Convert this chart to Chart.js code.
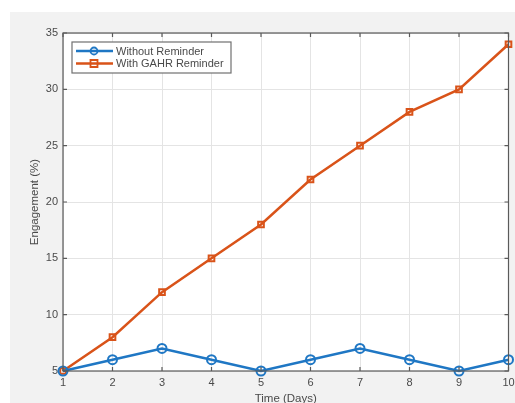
<!DOCTYPE html>
<html>
<head>
<meta charset="utf-8">
<script src="https://cdn.jsdelivr.net/npm/chart.js@4/dist/chart.umd.min.js"></script>
<style>
  html, body { margin: 0; padding: 0; background: #ffffff; }
  #canvas { display: block; }
</style>
</head>
<body>
<canvas id="canvas" width="515" height="403"></canvas>
<script>
// data
var days = [1, 2, 3, 4, 5, 6, 7, 8, 9, 10];
var withoutReminder = [5, 6, 7, 6, 5, 6, 7, 6, 5, 6];
var withGahrReminder = [5, 8, 12, 15, 18, 22, 25, 28, 30, 34];
var seriesNames = ['Without Reminder', 'With GAHR Reminder'];
var yTicks = [5, 10, 15, 20, 25, 30, 35];

var blue = '#1f77c4';
var orange = '#d95319';
var axisColor = '#5a5a5a';
var textColor = '#4a4a4a';
var fontFam = '"Liberation Sans", Arial, sans-serif';

function toPoints(values){
  var pts = [];
  for (var i = 0; i < days.length; i++) {
    pts.push({ x: days[i], y: values[i] });
  }
  return pts;
}

// grey figure background, white axes, frame, ticks and legend box
var matlabLook = {
  id: 'matlabLook',
  beforeDraw: function(chart){
    var ctx = chart.ctx;
    var a = chart.chartArea;
    ctx.save();
    ctx.fillStyle = '#ffffff';
    ctx.fillRect(0, 0, chart.width, chart.height);
    ctx.fillStyle = '#f2f2f2';
    ctx.fillRect(10, 12, chart.width - 10, chart.height - 12);
    ctx.fillStyle = '#ffffff';
    ctx.fillRect(a.left, a.top, a.right - a.left, a.bottom - a.top);
    ctx.restore();
  },
  afterDraw: function(chart){
    var ctx = chart.ctx;
    var a = chart.chartArea;
    var xs = chart.scales.x;
    var ys = chart.scales.y;
    ctx.save();
    ctx.strokeStyle = axisColor;
    ctx.lineWidth = 1.2;
    ctx.strokeRect(a.left, a.top, a.right - a.left, a.bottom - a.top);
    // inward tick marks
    ctx.beginPath();
    for (var i = 0; i < days.length; i++) {
      var px = xs.getPixelForValue(days[i]);
      ctx.moveTo(px, a.bottom); ctx.lineTo(px, a.bottom - 4);
      ctx.moveTo(px, a.top); ctx.lineTo(px, a.top + 4);
    }
    for (var j = 0; j < yTicks.length; j++) {
      var py = ys.getPixelForValue(yTicks[j]);
      ctx.moveTo(a.left, py); ctx.lineTo(a.left + 4, py);
      ctx.moveTo(a.right, py); ctx.lineTo(a.right - 4, py);
    }
    ctx.stroke();

    // legend
    var lx = a.left + 9, ly = a.top + 9, lw = 159, lh = 31;
    ctx.fillStyle = '#ffffff';
    ctx.fillRect(lx, ly, lw, lh);
    ctx.strokeStyle = '#707070';
    ctx.lineWidth = 1.2;
    ctx.strokeRect(lx, ly, lw, lh);
    ctx.font = '11px ' + fontFam;
    ctx.textBaseline = 'middle';
    chart.data.datasets.forEach(function(ds, k){
      var cy = ly + 9 + k * 12.5;
      ctx.strokeStyle = ds.borderColor;
      ctx.lineWidth = 2.5;
      ctx.beginPath();
      ctx.moveTo(lx + 4, cy); ctx.lineTo(lx + 41, cy);
      ctx.stroke();
      ctx.lineWidth = 1.8;
      ctx.beginPath();
      if (ds.pointStyle == 'circle') {
        ctx.arc(lx + 22, cy, 3.5, 0, Math.PI * 2);
      } else {
        ctx.rect(lx + 18.5, cy - 3.5, 7, 7);
      }
      ctx.stroke();
      ctx.fillStyle = textColor;
      ctx.fillText(ds.label, lx + 44, cy + 0.5);
    });
    ctx.restore();
  }
};

var config = {
  type: 'line',
  data: {
    datasets: [{
      label: seriesNames[0],
      data: toPoints(withoutReminder),
      borderColor: blue,
      backgroundColor: 'rgba(0,0,0,0)',
      borderWidth: 2.5,
      pointStyle: 'circle',
      pointRadius: 4.5,
      pointBorderWidth: 2,
      pointBackgroundColor: 'rgba(0,0,0,0)'
    }, {
      label: seriesNames[1],
      data: toPoints(withGahrReminder),
      borderColor: orange,
      backgroundColor: 'rgba(0,0,0,0)',
      borderWidth: 2.5,
      pointStyle: 'rect',
      pointRadius: 4,
      pointBorderWidth: 2,
      pointBackgroundColor: 'rgba(0,0,0,0)'
    }]
  },
  options: {
    responsive: false,
    animation: false,
    clip: false,
    layout: { padding: { left: 28, top: 33, right: 5, bottom: 0 } },
    plugins: { legend: { display: false }, tooltip: { enabled: false } },
    scales: {
      x: {
        type: 'linear',
        min: 1, max: 10,
        ticks: {
          stepSize: 1, padding: 5, color: textColor,
          font: { family: fontFam, size: 11 }
        },
        grid: { color: '#e4e4e4', drawTicks: false },
        border: { display: false },
        title: {
          display: true, text: 'Time (Days)', color: textColor,
          padding: { top: 0, bottom: -3 },
          font: { family: fontFam, size: 11.5 }
        },
        afterFit: function(s){ s.height = 32; s.paddingLeft = 0; s.paddingRight = 0; }
      },
      y: {
        min: 5, max: 35,
        afterBuildTicks: function(s){ s.ticks = yTicks.map(function(v){ return { value: v }; }); },
        ticks: {
          padding: 5, color: textColor,
          font: { family: fontFam, size: 11 }
        },
        grid: { color: '#e4e4e4', drawTicks: false },
        border: { display: false },
        title: {
          display: true, text: 'Engagement (%)', color: textColor,
          padding: { top: 0, bottom: 0 },
          font: { family: fontFam, size: 11.5 }
        },
        afterFit: function(s){ s.width = 35; s.paddingTop = 0; s.paddingBottom = 0; }
      }
    }
  },
  plugins: [matlabLook]
};

var ctx = document.getElementById('canvas').getContext('2d');
window.myLine = new Chart(ctx, config);
</script>
</body>
</html>
